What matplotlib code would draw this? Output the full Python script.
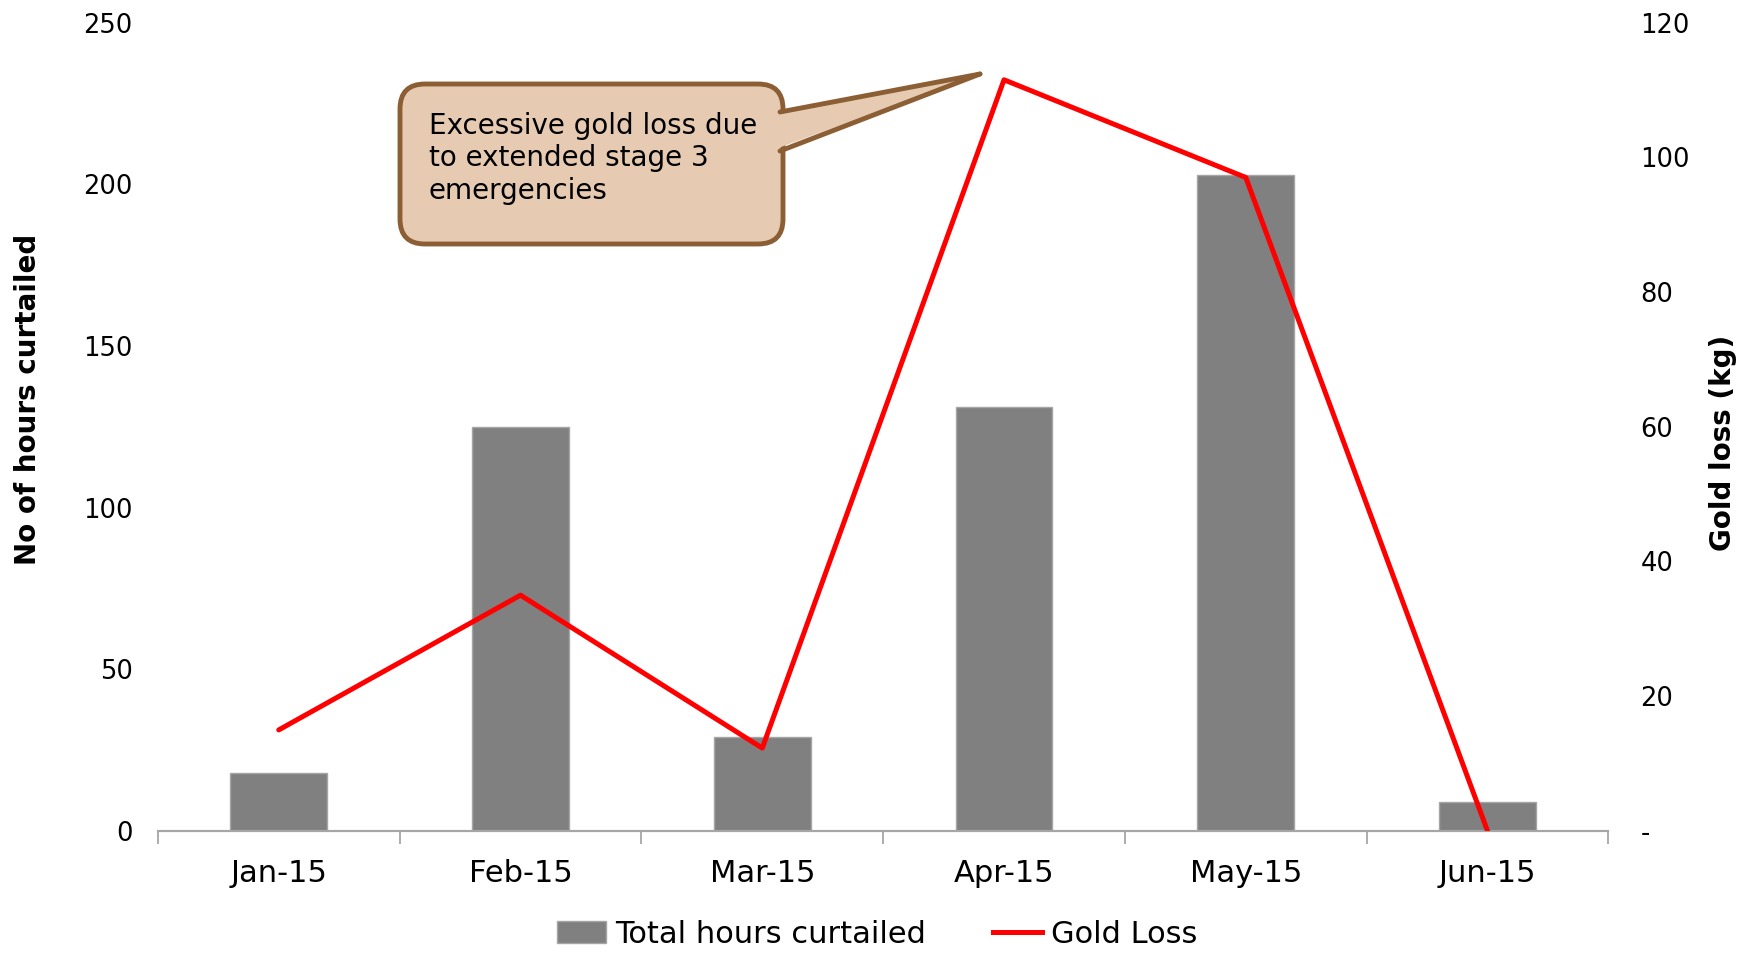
import numpy as np
import matplotlib.pyplot as plt
from matplotlib.patches import FancyBboxPatch, Polygon, Patch
from matplotlib.lines import Line2D

plt.rcParams['font.family'] = ['DejaVu Sans']

# data
months = ['Jan-15', 'Feb-15', 'Mar-15', 'Apr-15', 'May-15', 'Jun-15']
hours_curtailed = [18, 125, 29, 131, 203, 9]
gold_loss = [15, 35, 12.3, 111.5, 97, 0]

fig = plt.figure(figsize=(17.54, 9.59), dpi=100)
ax1 = fig.add_axes([0.090, 0.1335, 0.827, 0.843])
ax2 = ax1.twinx()

x = np.arange(len(months))
ax1.bar(x, hours_curtailed, width=0.4, color='#808080', edgecolor='#a6a6a6', linewidth=1, zorder=2)
ax2.plot(x, gold_loss, color='#ff0000', linewidth=3.6, solid_capstyle='round', zorder=3)

ax1.set_xlim(-0.5, len(months) - 0.5)
ax1.set_ylim(0, 250)
ax2.set_ylim(0, 120)
ax1.set_yticks(range(0, 251, 50))
ax2.set_yticks(range(0, 121, 20))
ax2.set_yticklabels(['-'] + [str(v) for v in range(20, 121, 20)])

ax1.set_xticks(x)
ax1.set_xticklabels(months, fontsize=22)
ax1.set_xticks(np.arange(-0.5, len(months)), minor=True)
ax1.tick_params(axis='x', which='major', length=0, pad=20)
ax1.tick_params(axis='x', which='minor', length=9, width=1.3, color='#a6a6a6')
ax1.tick_params(axis='y', length=0, labelsize=18.5, pad=18)
ax2.tick_params(axis='y', length=0, labelsize=18.5, pad=23)

for ax in (ax1, ax2):
    for side in ('left', 'right', 'top'):
        ax.spines[side].set_visible(False)
    ax.spines['bottom'].set_color('#a6a6a6')
    ax.spines['bottom'].set_linewidth(1.5)

ax1.set_ylabel('No of hours curtailed', fontsize=20, fontweight='bold')
ax2.set_ylabel('Gold loss (kg)', fontsize=20, fontweight='bold', rotation=90)
ax1.yaxis.set_label_coords(-0.080, 0.534)
ax2.yaxis.set_label_coords(1.069, 0.48)

# callout box
tr = fig.dpi_scale_trans
edge = '#8b5e34'
fill = '#e6cbb2'
box = FancyBboxPatch((4.00, 7.15), 3.83, 1.60, boxstyle='round,pad=0,rounding_size=0.25',
                     transform=tr, facecolor=fill, edgecolor=edge, linewidth=3.5, zorder=5)
fig.patches.append(box)
base_top = (7.80, 8.47)
base_bot = (7.80, 8.08)
tip = (9.80, 8.85)
wedge = Polygon([(7.70, 8.47), tip, (7.70, 8.08)], closed=True, transform=tr,
                facecolor=fill, edgecolor='none', zorder=6)
fig.patches.append(wedge)
for p in (base_top, base_bot):
    fig.lines.append(Line2D([p[0], tip[0]], [p[1], tip[1]], transform=tr, color=edge,
                            linewidth=3.5, solid_capstyle='round', zorder=7))
fig.text(4.29, 8.47, 'Excessive gold loss due\nto extended stage 3\nemergencies', transform=tr,
         fontsize=20, va='top', ha='left', linespacing=1.2, zorder=8)

handles = [Patch(facecolor='#808080', edgecolor='#a6a6a6'),
           Line2D([0], [0], color='#ff0000', linewidth=3.6)]
fig.legend(handles, ['Total hours curtailed', 'Gold Loss'], loc='lower center',
           bbox_to_anchor=(0.5, -0.018), ncol=2, frameon=False, fontsize=22,
           handlelength=1.6, handletextpad=0.3, columnspacing=2.2)

fig.savefig('out.png', dpi=100)
